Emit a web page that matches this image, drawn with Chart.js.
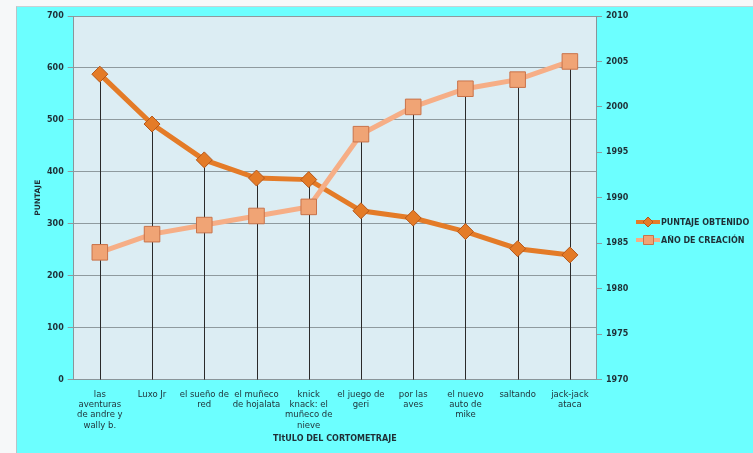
<!DOCTYPE html>
<html>
<head>
<meta charset="utf-8">
<script src="https://cdn.jsdelivr.net/npm/chart.js@4"></script>
<style>
  html, body { margin: 0; padding: 0; background: #f6f8f9; }
  #wrap { position: absolute; left: 16px; top: 6px; width: 737px; height: 447px;
          border-left: 1px solid #b8c4c8; border-top: 1px solid #c8d0d4; box-sizing: border-box; }
</style>
</head>
<body>
<div id="wrap"><canvas id="shortsChart"></canvas></div>
<script>
// Pixar shorts: score and year of creation
const titles = [
    ["las", "aventuras", "de andre y", "wally b."],
    ["Luxo Jr"],
    ["el sueño de", "red"],
    ["el muñeco", "de hojalata"],
    ["knick", "knack: el", "muñeco de", "nieve"],
    ["el juego de", "geri"],
    ["por las", "aves"],
    ["el nuevo", "auto de", "mike"],
    ["saltando"],
    ["jack-jack", "ataca"]
];
const scores = [588, 492, 423, 388, 385, 325, 311, 285, 252, 240];
const years = [1984, 1986, 1987, 1988, 1989, 1997, 2000, 2002, 2003, 2005];

const scoreColor = "#e47b27";
const yearColor = "#f6ae86";

const background = {
    id: "background",
    beforeDraw(chart) {
        const { ctx, chartArea } = chart;
        ctx.save();
        ctx.fillStyle = "#6cffff";
        ctx.fillRect(0, 0, chart.width, chart.height);
        ctx.fillStyle = "#dcedf3";
        ctx.fillRect(chartArea.left, chartArea.top, chartArea.right - chartArea.left, chartArea.bottom - chartArea.top);
        ctx.restore();
    }
};

// drop lines from the highest point of each category down to the axis
const dropLines = {
    id: "dropLines",
    beforeDatasetsDraw(chart) {
        const { ctx, chartArea } = chart;
        const a = chart.getDatasetMeta(0).data;
        const b = chart.getDatasetMeta(1).data;
        ctx.save();
        ctx.strokeStyle = "#2a2a2a";
        ctx.lineWidth = 1;
        a.forEach((p, i) => {
            const top = Math.min(p.y, b[i].y);
            const x = Math.round(p.x) + 0.5;
            ctx.beginPath();
            ctx.moveTo(x, top);
            ctx.lineTo(x, chartArea.bottom);
            ctx.stroke();
        });
        ctx.restore();
    }
};

// legend in the style of the original: line sample with marker, then the label
const sideLegend = {
    id: "sideLegend",
    afterDraw(chart) {
        const { ctx } = chart;
        const x0 = chart.width - 117;
        const yMid = chart.height / 2;
        ctx.save();
        ctx.font = "bold 8px 'DejaVu Sans', sans-serif";
        ctx.textBaseline = "middle";
        chart.data.datasets.forEach((ds, i) => {
            const y = Math.round(yMid - 8 + i * 18);
            ctx.strokeStyle = ds.borderColor;
            ctx.lineWidth = 4;
            ctx.beginPath(); ctx.moveTo(x0, y); ctx.lineTo(x0 + 24, y); ctx.stroke();
            ctx.fillStyle = ds.pointBackgroundColor;
            ctx.strokeStyle = ds.pointBorderColor;
            ctx.lineWidth = 1;
            ctx.beginPath();
            if (ds.pointStyle === "rectRot") {
                ctx.moveTo(x0 + 12, y - 5); ctx.lineTo(x0 + 17, y); ctx.lineTo(x0 + 12, y + 5); ctx.lineTo(x0 + 7, y); ctx.closePath();
            } else {
                ctx.rect(x0 + 7.5, y - 4.5, 10, 9);
            }
            ctx.fill(); ctx.stroke();
            ctx.fillStyle = "#1f2f36";
            ctx.fillText(ds.label, x0 + 25, y + 0.5);
        });
        ctx.restore();
    }
};

const ctx = document.getElementById("shortsChart").getContext("2d");
Chart.defaults.font.family = "'DejaVu Sans', sans-serif";
Chart.defaults.color = "#1f2f36";

new Chart(ctx, {
    type: "line",
    data: {
        labels: titles,
        datasets: [{
            label: "PUNTAJE OBTENIDO",
            data: scores,
            yAxisID: "y",
            borderColor: scoreColor,
            backgroundColor: scoreColor,
            borderWidth: 5,
            pointStyle: "rectRot",
            pointRadius: 8,
            pointBorderColor: "#b5571a",
            pointBorderWidth: 1,
            pointBackgroundColor: scoreColor,
            order: 1
        }, {
            label: "AÑO DE CREACIÓN",
            data: years,
            yAxisID: "y1",
            borderColor: yearColor,
            backgroundColor: yearColor,
            borderWidth: 5,
            pointStyle: "rect",
            pointRadius: 11,
            pointBorderColor: "#c9734a",
            pointBorderWidth: 1,
            pointBackgroundColor: "#f0a475",
            order: 0
        }]
    },
    options: {
        responsive: true,
        maintainAspectRatio: false,
        animation: false,
        layout: { autoPadding: false, padding: { top: 9, bottom: 5, left: 13, right: 121 } },
        scales: {
            x: {
                offset: true,
                grid: { display: false },
                border: { color: "#8a9599" },
                ticks: { autoSkip: false, maxRotation: 0, padding: 2, font: { size: 8.5 } },
                title: { display: true, text: "TItULO DEL CORTOMETRAJE", font: { size: 8, weight: "bold" }, padding: { top: 2 } }
            },
            y: {
                position: "left",
                min: 0,
                max: 700,
                ticks: { stepSize: 100, padding: 4, font: { size: 8, weight: "bold" } },
                grid: { color: "#8f9a9e", tickLength: 6 },
                border: { color: "#8a9599" },
                title: { display: true, text: "PUNTAJE", font: { size: 7.5, weight: "bold" }, padding: { bottom: 0 } }
            },
            y1: {
                position: "right",
                min: 1970,
                max: 2010,
                ticks: { stepSize: 5, padding: 4, font: { size: 8, weight: "bold" }, callback: v => String(v) },
                grid: { drawOnChartArea: false, color: "#8f9a9e", tickLength: 6 },
                border: { color: "#8a9599" },
                afterFit(scale) { scale.width = 36; }
            }
        },
        plugins: {
            legend: { display: false },
            tooltip: { enabled: false }
        }
    },
    plugins: [background, dropLines, sideLegend]
});
</script>
</body>
</html>
